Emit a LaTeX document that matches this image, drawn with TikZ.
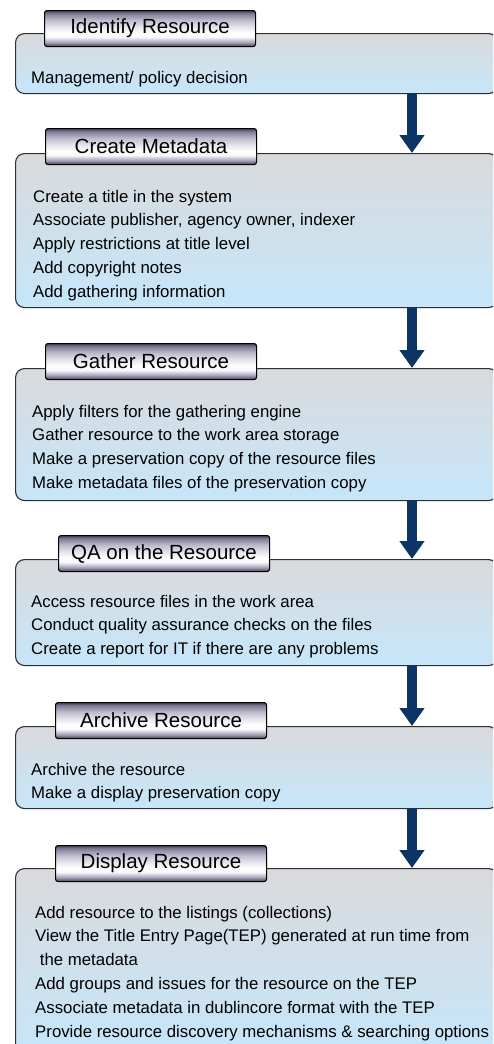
\documentclass[tikz,border=0pt]{standalone}
\usepackage{fontspec}
\setmainfont{Liberation Sans}
\usetikzlibrary{arrows.meta}
\definecolor{bodytop}{RGB}{217,218,220}
\definecolor{bodybot}{RGB}{198,230,250}
\definecolor{navy}{RGB}{12,52,100}
\definecolor{edgecol}{RGB}{45,45,50}
\pgfdeclareverticalshading{tabshade}{100bp}{%
  rgb(0bp)=(0.27,0.25,0.35);
  rgb(25bp)=(0.27,0.25,0.35);
  rgb(31bp)=(0.66,0.64,0.72);
  rgb(38bp)=(0.97,0.97,0.99);
  rgb(44bp)=(1,1,1);
  rgb(52bp)=(0.90,0.90,0.93);
  rgb(62bp)=(0.74,0.73,0.80);
  rgb(71bp)=(0.50,0.48,0.58);
  rgb(75bp)=(0.27,0.25,0.35);
  rgb(100bp)=(0.27,0.25,0.35)}
\begin{document}
\begin{tikzpicture}[x=1pt,y=-1pt,
  body/.style={draw=edgecol, line width=1.1pt, rounded corners=9pt, top color=bodytop, bottom color=bodybot, anchor=north west, inner sep=0pt, minimum width=482pt},
  tabbox/.style={draw=black, line width=1.1pt, rounded corners=2.5pt, shading=tabshade, anchor=north west, minimum width=211pt, minimum height=36pt, inner sep=0pt, font=\fontsize{20.5}{24}\selectfont},
  txt/.style={anchor=base west, inner sep=0pt, font=\fontsize{16.8}{23.9}\selectfont},
  flow/.style={draw=navy, line width=10pt, -{Triangle[width=24pt,length=18pt]}}]
\useasboundingbox (0,0) rectangle (493,1044);
\clip (0,0) rectangle (493,1044);
\fill[white] (0,0) rectangle (493,1044);
\coordinate (ax) at (412,0);

% bodies
\node[body, minimum height=60pt]  (b1) at (15,33)  {};
\node[body, minimum height=154pt] (b2) at (15,153) {};
\node[body, minimum height=132pt] (b3) at (15,368) {};
\node[body, minimum height=106pt] (b4) at (15,559) {};
\node[body, minimum height=82pt]  (b5) at (15,726) {};
\node[body, minimum height=185pt] (b6) at (15,868) {};

% tabs
\node[tabbox] (h1) at (44,10)  {Identify Resource};
\node[tabbox] (h2) at (45,128) {Create Metadata};
\node[tabbox] (h3) at (45,343) {Gather Resource};
\node[tabbox] (h4) at (58,535) {QA on the Resource};
\node[tabbox] (h5) at (55,702) {Archive Resource};
\node[tabbox] (h6) at (55,845) {Display Resource};

% texts
\node[txt] (t1) at (31,83) {\vtop{\hbox{Management/ policy decision}}};
\node[txt] (t2) at (33,202) {\vtop{%
  \hbox{Create a title in the system}
  \hbox{Associate publisher, agency owner, indexer}
  \hbox{Apply restrictions at title level}
  \hbox{Add copyright notes}
  \hbox{Add gathering information}}};
\node[txt] (t3) at (32,417) {\vtop{%
  \hbox{Apply filters for the gathering engine}
  \hbox{Gather resource to the work area storage}
  \hbox{Make a preservation copy of the resource files}
  \hbox{Make metadata files of the preservation copy}}};
\node[txt] (t4) at (31,607) {\vtop{%
  \hbox{Access resource files in the work area}
  \hbox{Conduct quality assurance checks on the files}
  \hbox{Create a report for IT if there are any problems}}};
\node[txt] (t5) at (31,775) {\vtop{%
  \hbox{Archive the resource}
  \hbox{Make a display preservation copy}}};
\node[txt] (t6) at (35,918) {\vtop{%
  \hbox{Add resource to the listings (collections)}
  \hbox{View the Title Entry Page(TEP) generated at run time from}
  \hbox{\hspace{4.7pt}the metadata}
  \hbox{Add groups and issues for the resource on the TEP}
  \hbox{Associate metadata in dublincore format with the TEP}
  \hbox{Provide resource discovery mechanisms \& searching options}}};

% arrows
\draw[flow] (b1.south -| ax) -- (b2.north -| ax);
\draw[flow] (b2.south -| ax) -- (b3.north -| ax);
\draw[flow] (b3.south -| ax) -- (b4.north -| ax);
\draw[flow] (b4.south -| ax) -- (b5.north -| ax);
\draw[flow] (b5.south -| ax) -- (b6.north -| ax);
\end{tikzpicture}
\end{document}
